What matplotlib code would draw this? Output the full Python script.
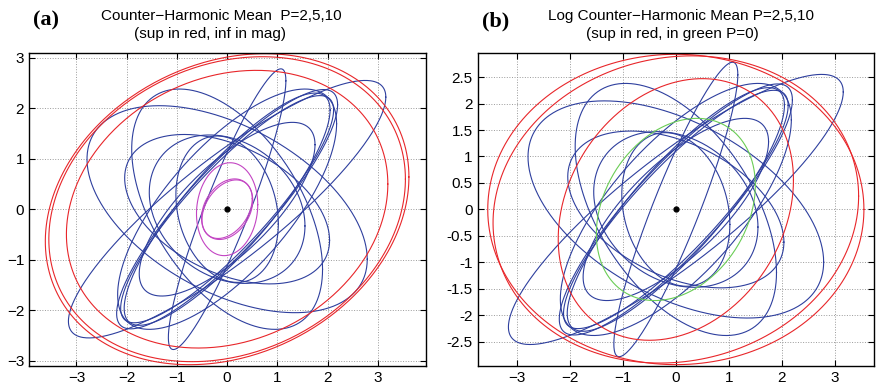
import numpy as np
import matplotlib.pyplot as plt

# each ellipse is centred at 0, given by its top point (x,y) and its rightmost x
blue_top_x = [1.07, 2.75, -0.95, -1.35, 1.92, 1.85, 1.75, 1.30, -0.85, -0.35, -0.20, 1.55]
blue_top_y = [2.78, 2.55, 2.38, 2.05, 2.37, 2.25, 2.30, 1.72, 1.48, 1.47, 1.45, 2.38]
blue_right_x = [1.17, 3.16, 1.90, 2.79, 2.20, 2.12, 2.05, 1.75, 2.04, 1.55, 1.02, 2.18]

# (a) counter-harmonic mean
sup_a_top_x = [0.58, 0.75, 0.70]
sup_a_top_y = [2.75, 3.08, 3.02]
sup_a_right_x = [3.20, 3.62, 3.55]
inf_a_top_x = [0.06, 0.15, 0.18]
inf_a_top_y = [0.92, 0.60, 0.58]
inf_a_right_x = [0.61, 0.51, 0.50]

# (b) log counter-harmonic mean
sup_b_top_x = [0.50, 0.00, 0.30]
sup_b_top_y = [2.47, 2.93, 2.90]
sup_b_right_x = [2.22, 3.55, 3.45]
p0_top_x = [0.40]
p0_top_y = [1.72]
p0_right_x = [1.50]

BLUE = '#2e3f9e'
RED = '#e8262a'
MAG = '#c345c3'
GREEN = '#6acd55'


def ellipse(tx, ty, rx):
    S = np.array([[rx**2, tx*ty], [tx*ty, ty**2]])
    L = np.linalg.cholesky(S)
    t = np.linspace(0, 2*np.pi, 400)
    p = L @ np.vstack([np.cos(t), np.sin(t)])
    return p[0], p[1]


def draw(ax, txs, tys, rxs, color):
    for tx, ty, rx in zip(txs, tys, rxs):
        x, y = ellipse(tx, ty, rx)
        ax.plot(x, y, color=color, lw=0.8)


def style(ax):
    ax.grid(True, linestyle=':', color='#9a9a9a', linewidth=0.7)
    ax.tick_params(direction='in', length=4, top=True, right=True, labelsize=11)
    for s in ax.spines.values():
        s.set_linewidth(1.0)
    ax.plot(0, 0, 'o', color='black', markersize=3.5)


fig = plt.figure(figsize=(8.76, 3.92), dpi=100)
plt.rcParams['font.family'] = ['Liberation Sans', 'DejaVu Sans']

ax1 = fig.add_axes([0.0331, 0.0671, 0.4532, 0.7985])
draw(ax1, blue_top_x, blue_top_y, blue_right_x, BLUE)
draw(ax1, sup_a_top_x, sup_a_top_y, sup_a_right_x, RED)
draw(ax1, inf_a_top_x, inf_a_top_y, inf_a_right_x, MAG)
style(ax1)
ax1.set_xlim(-3.945, 3.96)
ax1.set_ylim(-3.1, 3.1)
ax1.set_xticks(range(-3, 4))
ax1.set_yticks(range(-3, 4))
fig.text(221/876, 1-16/392, 'Counter\u2212Harmonic Mean  P=2,5,10', ha='center', va='center', fontsize=11)
fig.text(210/876, 1-34/392, '(sup in red, inf in mag)', ha='center', va='center', fontsize=11)
fig.text(46/876, 1-20/392, '(a)', family='Liberation Serif', weight='bold',
         fontsize=16, ha='center', va='center')

ax2 = fig.add_axes([0.5453, 0.0671, 0.4524, 0.7985])
draw(ax2, blue_top_x, blue_top_y, blue_right_x, BLUE)
draw(ax2, sup_b_top_x, sup_b_top_y, sup_b_right_x, RED)
draw(ax2, p0_top_x, p0_top_y, p0_right_x, GREEN)
style(ax2)
ax2.set_xlim(-3.74, 3.74)
ax2.set_ylim(-2.95, 2.96)
ax2.set_xticks(range(-3, 4))
ax2.set_yticks(np.arange(-2.5, 2.51, 0.5))
ax2.set_yticklabels(['%g' % v for v in np.arange(-2.5, 2.51, 0.5)])
fig.text(681/876, 1-16/392, 'Log Counter\u2212Harmonic Mean P=2,5,10', ha='center', va='center', fontsize=11)
fig.text(672/876, 1-34/392, '(sup in red, in green P=0)', ha='center', va='center', fontsize=11)
fig.text(496/876, 1-21/392, '(b)', family='Liberation Serif', weight='bold',
         fontsize=16, ha='center', va='center')

fig.savefig('out.png', dpi=100)
